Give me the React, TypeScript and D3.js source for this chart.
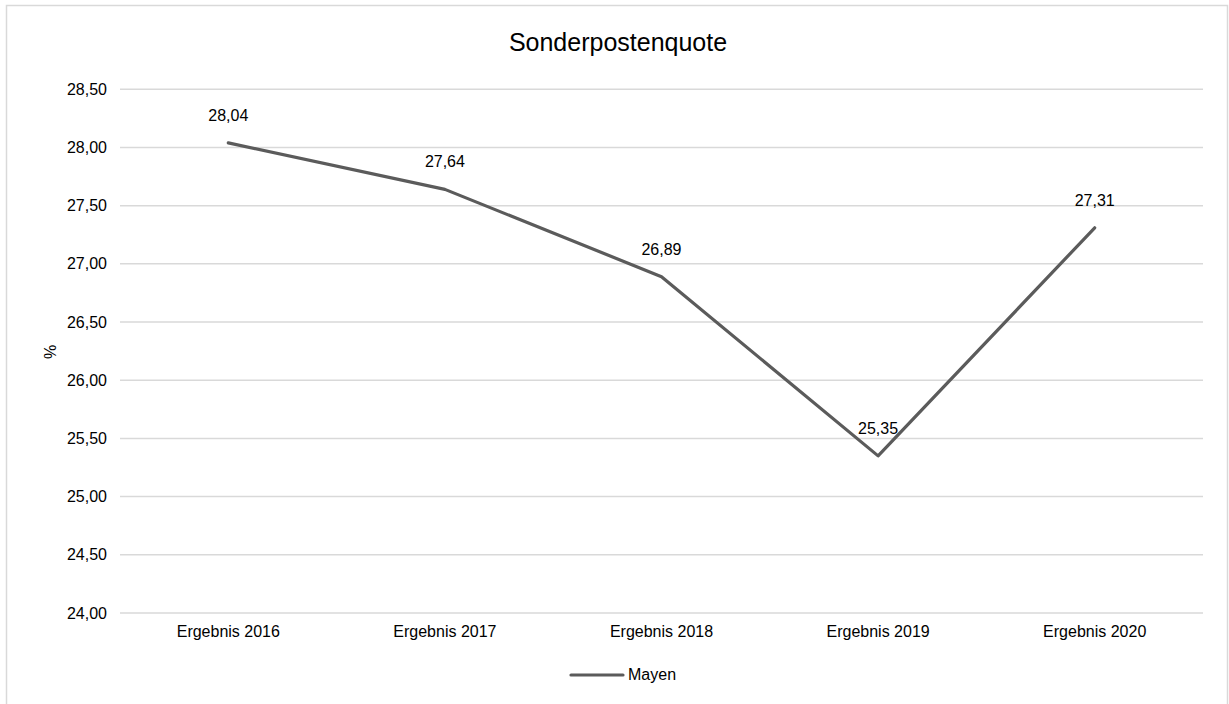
import React from "react";
import * as d3 from "d3";

const categories = ["Ergebnis 2016", "Ergebnis 2017", "Ergebnis 2018", "Ergebnis 2019", "Ergebnis 2020"];
const values = [28.04, 27.64, 26.89, 25.35, 27.31];
const yTicks = [24, 24.5, 25, 25.5, 26, 26.5, 27, 27.5, 28, 28.5];
const seriesName = "Mayen";
const chartTitle = "Sonderpostenquote";
const yAxisTitle = "%";

const W = 1229;
const H = 704;
const plot = { left: 120, right: 1203, top: 89.3, bottom: 613 };
const lineColor = "#5b5b5b";
const gridColor = "#d9d9d9";
const font = "'Liberation Sans', Arial, sans-serif";

const fmt = (v: number) => v.toFixed(2).replace(".", ",");

export default function App() {
  const x = d3.scaleBand<string>().domain(categories).range([plot.left, plot.right]);
  const y = d3.scaleLinear().domain([24, 28.5]).range([plot.bottom, plot.top]);
  const cx = (c: string) => (x(c) ?? 0) + x.bandwidth() / 2;

  const line = d3
    .line<number>()
    .x((_, i) => cx(categories[i]))
    .y((d) => y(d));

  return (
    <svg
      width={W}
      height={H}
      style={{ position: "absolute", left: 0, top: 0, background: "#fff" }}
      fontFamily={font}
    >
      <rect x={6.5} y={5.5} width={1221} height={730} fill="#fff" stroke={gridColor} strokeWidth={1.5} />

      <text x={618} y={51} textAnchor="middle" fontSize={25} fill="#000">
        {chartTitle}
      </text>

      {yTicks.map((t) => (
        <g key={t}>
          <line x1={plot.left} x2={plot.right} y1={y(t)} y2={y(t)} stroke={gridColor} strokeWidth={1.5} />
          <text x={107} y={y(t)} dy="0.35em" textAnchor="end" fontSize={16} fill="#000">
            {fmt(t)}
          </text>
        </g>
      ))}

      <text
        transform={`translate(${56},${352}) rotate(-90)`}
        textAnchor="middle"
        fontSize={16}
        fill="#000"
      >
        {yAxisTitle}
      </text>

      {categories.map((c) => (
        <text key={c} x={cx(c)} y={637} textAnchor="middle" fontSize={16} fill="#000">
          {c}
        </text>
      ))}

      <path
        d={line(values) ?? ""}
        fill="none"
        stroke={lineColor}
        strokeWidth={3.2}
        strokeLinejoin="round"
        strokeLinecap="round"
      />

      {values.map((v, i) => (
        <text key={i} x={cx(categories[i])} y={y(v) - 22} textAnchor="middle" fontSize={16} fill="#000">
          {fmt(v)}
        </text>
      ))}

      <line x1={571} x2={623} y1={675} y2={675} stroke={lineColor} strokeWidth={3.2} strokeLinecap="round" />
      <text x={628} y={680} fontSize={16} fill="#000">
        {seriesName}
      </text>
    </svg>
  );
}
